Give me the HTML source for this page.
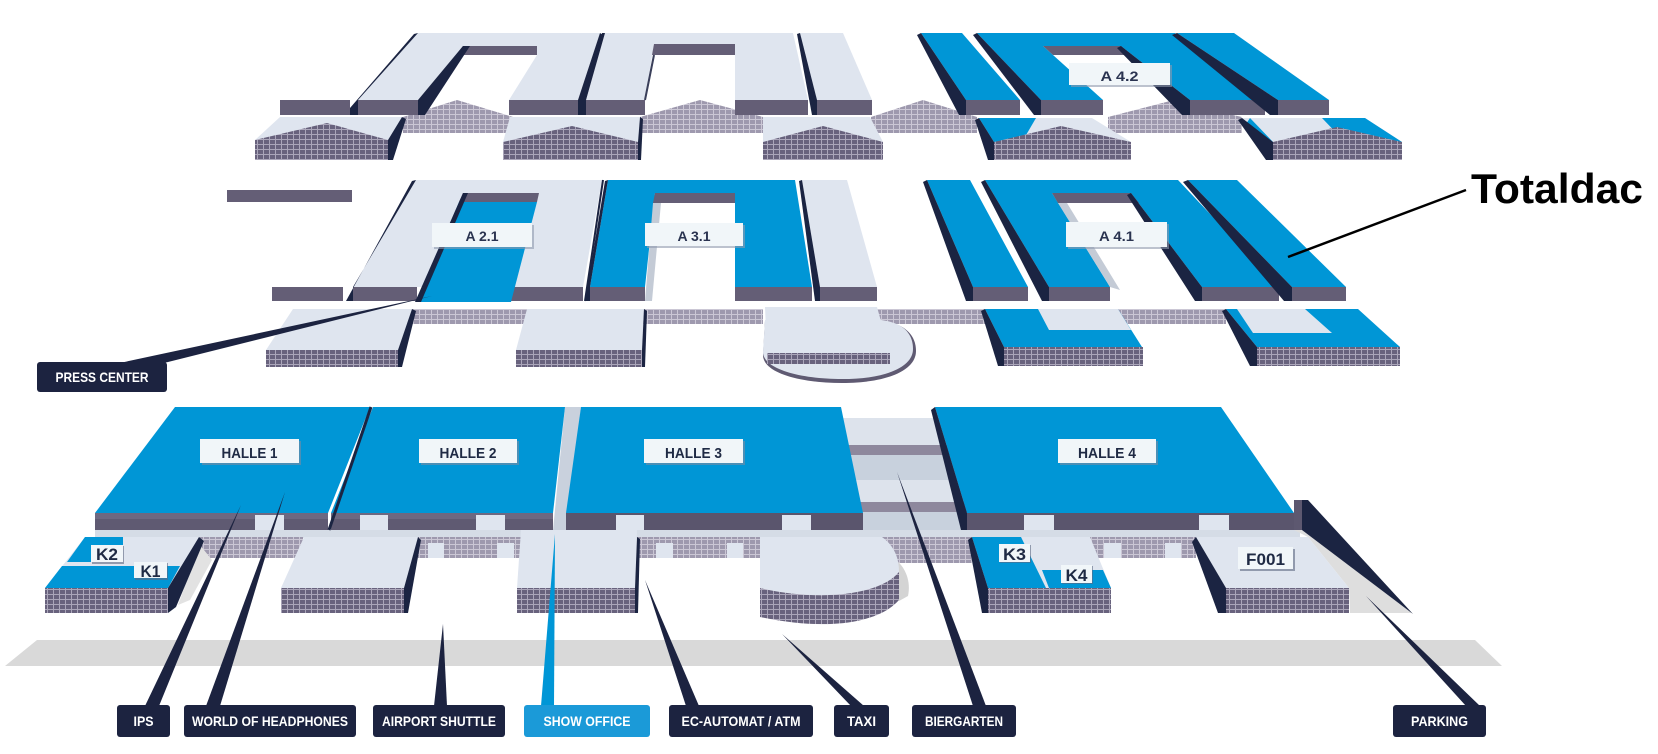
<!DOCTYPE html>
<html><head><meta charset="utf-8">
<style>html,body{margin:0;padding:0;background:#fff}svg{display:block}</style>
</head><body>
<svg width="1658" height="754" viewBox="0 0 1658 754" xmlns="http://www.w3.org/2000/svg" font-family="Liberation Sans, sans-serif">
<defs>
<pattern id="hd" width="6" height="5" patternUnits="userSpaceOnUse"><rect width="6" height="5" fill="#aaa5b9"/><rect width="5" height="4" fill="#68627d"/></pattern>
<pattern id="hl" width="6" height="5" patternUnits="userSpaceOnUse"><rect width="6" height="5" fill="#cbc7d5"/><rect width="5" height="4" fill="#9e99ae"/></pattern>
</defs>

<!-- ground strip -->
<polygon points="37,640 1475,640 1502,666 5,666" fill="#d9d9d9"/>

<!-- ===== TOP ROW ===== -->
<g>
<polygon fill="url(#hl)" points="403,117 457,100 513,117 513,133 403,133"/>
<polygon fill="url(#hl)" points="640,117 700,100 763,117 763,133 640,133"/>
<polygon fill="url(#hl)" points="871,117 923,100 977,117 977,133 871,133"/>
<polygon fill="url(#hl)" points="1108,117 1170,101 1242,117 1242,133 1108,133"/>

<!-- front pitched blocks -->
<polygon fill="#dfe5ef" points="280,117 402,117 388,140 255,140"/>
<polygon fill="url(#hd)" points="255,140 327,123 388,140 388,160 255,160"/>
<polygon fill="#1b2442" points="402,117 406,119 393,160 388,160 388,140"/>

<polygon fill="#dfe5ef" points="510,117 640,117 638,142 503,142"/>
<polygon fill="url(#hd)" points="503,142 572,126 638,142 638,160 503,160"/>
<polygon fill="#1b2442" points="640,117 643,119 641,160 638,160 638,142"/>

<polygon fill="#dfe5ef" points="763,117 870,117 883,142 763,142"/>
<polygon fill="url(#hd)" points="763,142 823,126 883,142 883,160 763,160"/>

<polygon fill="#dfe5ef" points="979,118 1092,118 1131,142 994,142"/>
<polygon fill="#0096d6" points="979,118 1036,118 1022,142 994,142"/>
<polygon fill="url(#hd)" points="994,142 1061,126 1131,142 1131,160 994,160"/>
<polygon fill="#1b2442" points="979,118 994,142 994,160 988,160 975,120"/>

<polygon fill="#dfe5ef" points="1242,118 1365,118 1402,142 1273,142"/>
<polygon fill="#0096d6" points="1322,118 1365,118 1402,142 1345,142"/>
<polygon fill="#0096d6" points="1246,124 1262,142 1273,142 1250,118"/>
<polygon fill="url(#hd)" points="1273,142 1337,127 1402,142 1402,160 1273,160"/>
<polygon fill="#1b2442" points="1242,118 1273,142 1273,160 1266,160 1238,120"/>

<!-- lone bar -->
<rect x="280" y="100" width="70" height="15" fill="#645e76"/>

<!-- PI 1 -->
<path fill="#dfe5ef" fill-rule="evenodd" d="M418,33 L600,33 L578,100 L358,100 Z M463,46 L537,46 L537,55 L509,100 L418,100 Z"/>
<polygon fill="#645e76" points="463,46 537,46 537,55 456,55"/>
<polygon fill="#1b2442" points="418,33 358,100 358,115 350,115 350,108 414,34"/>
<polygon fill="#1b2442" points="463,46 470,46 425,115 418,115 418,100"/>
<polygon fill="#1b2442" points="600,33 603,35 582,115 578,115 578,100"/>
<rect x="358" y="100" width="60" height="15" fill="#645e76"/>
<rect x="509" y="100" width="69" height="15" fill="#645e76"/>

<!-- PI 2 -->
<path fill="#dfe5ef" fill-rule="evenodd" d="M605,33 L793,33 L808,100 L586,100 Z M654,44 L735,44 L735,100 L645,100 Z"/>
<polygon fill="#645e76" points="654,44 735,44 735,55 652,55"/>
<line x1="654" y1="55" x2="645" y2="100" stroke="#3a3f5a" stroke-width="2"/>
<polygon fill="#1b2442" points="605,33 586,100 586,115 581,115 602,33"/>
<rect x="586" y="100" width="59" height="15" fill="#645e76"/>
<rect x="735" y="100" width="73" height="15" fill="#645e76"/>

<!-- narrow -->
<polygon fill="#dfe5ef" points="800,33 843,33 872,100 817,100"/>
<polygon fill="#1b2442" points="800,33 817,100 817,115 812,115 797,34"/>
<rect x="817" y="100" width="55" height="15" fill="#645e76"/>

<!-- blue slab 1 -->
<polygon fill="#0096d6" points="921,33 962,33 1020,100 966,100"/>
<polygon fill="#1b2442" points="921,33 966,100 966,115 959,115 917,35"/>
<rect x="966" y="100" width="54" height="15" fill="#645e76"/>

<!-- blue PI A4.2 -->
<path fill="#0096d6" fill-rule="evenodd" d="M977,33 L1175,33 L1265,100 L1041,100 Z M1043,46 L1121,46 L1190,100 L1103,100 Z"/>
<polygon fill="#645e76" points="1043,46 1121,46 1132,55 1053,55"/>
<polygon fill="#1b2442" points="977,33 1041,100 1041,115 1034,115 973,35"/>
<polygon fill="#1b2442" points="1121,46 1190,100 1190,115 1182,115 1117,48"/>
<rect x="1041" y="100" width="62" height="15" fill="#645e76"/>
<rect x="1190" y="100" width="75" height="15" fill="#645e76"/>

<!-- blue slab 3 -->
<polygon fill="#0096d6" points="1177,33 1234,33 1329,100 1278,100"/>
<polygon fill="#1b2442" points="1177,33 1278,100 1278,115 1270,115 1172,35"/>
<rect x="1278" y="100" width="51" height="15" fill="#645e76"/>

<rect x="1071" y="65" width="101" height="22" fill="#8f9aae" opacity="0.6"/>
<rect x="1069" y="63" width="101" height="22" fill="#f1f6f9"/>
<text x="1119.5" y="81" font-size="14" font-weight="bold" fill="#2a3350" text-anchor="middle" textLength="38" lengthAdjust="spacingAndGlyphs">A 4.2</text>
</g>

<!-- ===== MIDDLE ROW ===== -->
<g>
<rect x="227" y="190" width="125" height="12" fill="#645e76"/>
<rect x="272" y="287" width="71" height="14" fill="#645e76"/>

<!-- A2.1 -->
<polygon fill="#dfe5ef" points="416,180 602,180 583,287 353,287"/>
<rect x="353" y="287" width="64" height="14" fill="#645e76"/>
<rect x="511" y="287" width="72" height="14" fill="#645e76"/>
<polygon fill="#645e76" points="463,193 539,193 537,202 459,202"/>
<polygon fill="#0096d6" points="459,202 537,202 511,302 417,302"/>
<polygon fill="#1b2442" points="463,193 468,193 421,302 415,302"/>
<polygon fill="#1b2442" points="416,180 353,287 353,301 346,301 412,181"/>
<line x1="603" y1="180" x2="585" y2="301" stroke="#1b2442" stroke-width="2"/>

<!-- A3.1 -->
<path fill="#0096d6" fill-rule="evenodd" d="M608,180 L795,180 L812,287 L590,287 Z M655,193 L735,193 L735,287 L645,287 Z"/>
<polygon fill="#645e76" points="655,193 735,193 735,203 653,203"/>
<polygon fill="#c4cbd6" points="653,203 661,203 652,301 645,301"/>
<polygon fill="#1b2442" points="608,180 590,287 590,301 585,301 605,181"/>
<rect x="590" y="287" width="55" height="14" fill="#645e76"/>
<rect x="735" y="287" width="77" height="14" fill="#645e76"/>

<!-- narrow -->
<polygon fill="#dfe5ef" points="802,180 847,180 877,287 820,287"/>
<polygon fill="#1b2442" points="802,180 820,287 820,301 815,301 799,181"/>
<rect x="820" y="287" width="57" height="14" fill="#645e76"/>

<!-- A4 slab L -->
<polygon fill="#0096d6" points="927,180 970,180 1028,287 973,287"/>
<polygon fill="#1b2442" points="927,180 973,287 973,301 966,301 923,182"/>
<rect x="973" y="287" width="55" height="14" fill="#645e76"/>

<!-- A4.1 PI -->
<path fill="#0096d6" fill-rule="evenodd" d="M985,180 L1178,180 L1279,287 L1049,287 Z M1052,193 L1131,193 L1202,287 L1110,287 Z"/>
<polygon fill="#645e76" points="1052,193 1131,193 1139,203 1058,203"/>
<polygon fill="#c4cbd6" points="1058,203 1067,203 1120,290 1110,287"/>
<polygon fill="#1b2442" points="985,180 1049,287 1049,301 1042,301 981,182"/>
<polygon fill="#1b2442" points="1131,193 1202,287 1202,301 1195,301 1127,195"/>
<rect x="1049" y="287" width="61" height="14" fill="#645e76"/>
<rect x="1202" y="287" width="77" height="14" fill="#645e76"/>

<!-- right slab -->
<polygon fill="#0096d6" points="1188,180 1237,180 1346,287 1292,287"/>
<polygon fill="#1b2442" points="1188,180 1292,287 1292,301 1284,301 1183,182"/>
<rect x="1292" y="287" width="54" height="14" fill="#645e76"/>

<!-- lower middle -->
<rect x="412" y="309" width="115" height="15" fill="url(#hl)"/>
<rect x="640" y="309" width="123" height="15" fill="url(#hl)"/>
<rect x="875" y="309" width="111" height="15" fill="url(#hl)"/>
<rect x="1118" y="309" width="108" height="15" fill="url(#hl)"/>

<polygon fill="#dfe5ef" points="293,309 412,309 398,350 266,350"/>
<rect x="266" y="350" width="132" height="17" fill="url(#hd)"/>
<polygon fill="#1b2442" points="412,309 416,311 402,367 398,367 398,350"/>

<polygon fill="#dfe5ef" points="527,309 644,309 642,350 516,350"/>
<rect x="516" y="350" width="126" height="17" fill="url(#hd)"/>
<polygon fill="#1b2442" points="644,309 647,311 645,367 642,367 642,350"/>

<!-- semicircle building -->
<path fill="#5f5a72" d="M763,355 C763,373 800,383 842,383 C888,383 916,370 916,351 C916,333 902,323 882,321 L765,321 Z"/>
<path fill="#dfe5ef" d="M763,352 C763,369 800,379 842,379 C886,379 913,367 913,349 C913,331 900,322 880,320 L765,320 Z"/>
<polygon fill="#dfe5ef" points="765,307 877,307 890,353 767,353"/>
<rect x="767" y="353" width="123" height="11" fill="url(#hd)"/>

<!-- blue L block -->
<polygon fill="#0096d6" points="985,309 1118,309 1142,347 1004,347"/>
<polygon fill="#dfe5ef" points="1038,309 1118,309 1131,330 1049,330"/>
<rect x="1004" y="347" width="139" height="19" fill="url(#hd)"/>
<polygon fill="#1b2442" points="985,309 1004,347 1004,366 998,366 981,311"/>

<polygon fill="#0096d6" points="1226,309 1358,309 1400,347 1257,347"/>
<polygon fill="#dfe5ef" points="1237,309 1305,309 1332,333 1253,333"/>
<rect x="1257" y="347" width="143" height="19" fill="url(#hd)"/>
<polygon fill="#1b2442" points="1226,309 1257,347 1257,366 1250,366 1222,311"/>

<!-- labels -->
<rect x="434" y="225" width="100" height="24" fill="#8f9aae" opacity="0.6"/>
<rect x="432" y="223" width="100" height="24" fill="#f1f6f9"/>
<text x="482" y="241" font-size="14" font-weight="bold" fill="#2a3350" text-anchor="middle" textLength="33" lengthAdjust="spacingAndGlyphs">A 2.1</text>
<rect x="647" y="225" width="98" height="23" fill="#8f9aae" opacity="0.6"/>
<rect x="645" y="223" width="98" height="23" fill="#f1f6f9"/>
<text x="694" y="241" font-size="14" font-weight="bold" fill="#2a3350" text-anchor="middle" textLength="33" lengthAdjust="spacingAndGlyphs">A 3.1</text>
<rect x="1068" y="224" width="101" height="25" fill="#8f9aae" opacity="0.6"/>
<rect x="1066" y="222" width="101" height="25" fill="#f1f6f9"/>
<text x="1116.5" y="241" font-size="14" font-weight="bold" fill="#2a3350" text-anchor="middle" textLength="35" lengthAdjust="spacingAndGlyphs">A 4.1</text>
</g>

<!-- ===== BOTTOM ROW ===== -->
<g>
<rect x="95" y="529" width="1205" height="9" fill="#d5dce6"/>
<!-- back hatch strips -->
<rect x="198" y="537" width="105" height="21" fill="url(#hl)"/>
<rect x="418" y="537" width="106" height="21" fill="url(#hl)"/>
<rect x="428" y="543" width="16" height="15" fill="#dfe5ef"/>
<rect x="497" y="543" width="17" height="15" fill="#dfe5ef"/>
<rect x="637" y="537" width="123" height="21" fill="url(#hl)"/>
<rect x="656" y="543" width="17" height="15" fill="#dfe5ef"/>
<rect x="727" y="543" width="16" height="15" fill="#dfe5ef"/>
<rect x="882" y="537" width="90" height="26" fill="url(#hl)"/>
<rect x="1090" y="537" width="106" height="21" fill="url(#hl)"/>
<rect x="1104" y="543" width="17" height="15" fill="#dfe5ef"/>
<rect x="1165" y="543" width="16" height="15" fill="#dfe5ef"/>

<!-- biergarten stripes -->
<rect x="838" y="418" width="132" height="27" fill="#dde3ec"/>
<rect x="838" y="445" width="132" height="10" fill="#8e889d"/>
<rect x="838" y="455" width="132" height="25" fill="#c8d1dd"/>
<rect x="838" y="480" width="132" height="22" fill="#dde3ec"/>
<rect x="838" y="502" width="132" height="10" fill="#8e889d"/>
<rect x="838" y="512" width="132" height="18" fill="#c8d1dd"/>

<!-- gap H2-H3 -->
<polygon fill="#c9d1dd" points="565,407 581,407 566,530 553,530"/>

<!-- HALLE 1 -->
<polygon fill="#0096d6" points="175,407 370,407 328,513 95,513"/>
<rect x="95" y="513" width="233" height="17" fill="#5f5a72"/>
<rect x="95" y="513" width="233" height="6" fill="#6d6881"/>
<rect x="255" y="515" width="29" height="15" fill="#dfe5ef"/>
<!-- HALLE 2 -->
<polygon fill="#0096d6" points="373,407 565,407 553,513 331,513"/>
<rect x="331" y="513" width="222" height="17" fill="#5f5a72"/>
<rect x="331" y="513" width="222" height="6" fill="#6d6881"/>
<rect x="360" y="515" width="28" height="15" fill="#dfe5ef"/>
<rect x="476" y="515" width="29" height="15" fill="#dfe5ef"/>
<line x1="371" y1="407" x2="329" y2="530" stroke="#1b2442" stroke-width="3"/>
<!-- HALLE 3 -->
<polygon fill="#0096d6" points="581,407 841,407 863,513 566,513"/>
<rect x="566" y="513" width="297" height="17" fill="#5a556d"/>
<rect x="616" y="515" width="28" height="15" fill="#dfe5ef"/>
<rect x="782" y="515" width="29" height="15" fill="#dfe5ef"/>
<!-- HALLE 4 -->
<polygon fill="#0096d6" points="935,407 1221,407 1294,513 967,513"/>
<rect x="967" y="513" width="327" height="17" fill="#5a556d"/>
<rect x="1024" y="515" width="30" height="15" fill="#dfe5ef"/>
<rect x="1199" y="515" width="30" height="15" fill="#dfe5ef"/>
<polygon fill="#1b2442" points="935,407 967,513 967,530 961,530 931,410"/>
<!-- parking ramp -->
<polygon fill="#dedede" points="1294,530 1306,530 1412,613 1350,613 1349,588 1308,537"/>
<rect x="1294" y="500" width="9" height="30" fill="#5d5870"/>
<polygon fill="#1b2442" points="1302,500 1308,500 1413,614 1302,530"/>

<!-- K2/K1 block -->
<polygon fill="#e2e2e2" points="200,545 212,560 190,600 178,605"/>
<polygon fill="#dfe5ef" points="85,537 200,537 168,588 45,588"/>
<polygon fill="#0096d6" points="85,537 123,537 123,562 67,562"/>
<polygon fill="#0096d6" points="62,566 180,566 168,588 45,588"/>
<rect x="45" y="588" width="123" height="25" fill="url(#hd)"/>
<polygon fill="#1b2442" points="199,537 204,541 176,607 168,613 168,588"/>

<!-- airport block -->
<polygon fill="#dfe5ef" points="304,537 418,537 404,588 281,588"/>
<rect x="281" y="588" width="123" height="25" fill="url(#hd)"/>
<polygon fill="#1b2442" points="418,537 421,540 408,613 404,613 404,588"/>

<!-- show office block -->
<polygon fill="#dfe5ef" points="521,530 637,530 635,588 517,588"/>
<rect x="517" y="588" width="118" height="25" fill="url(#hd)"/>
<polygon fill="#1b2442" points="637,537 640,539 638,613 635,613 635,588"/>

<!-- taxi building -->
<path fill="#d4d4d4" d="M896,560 C906,568 911,582 908,596 L899,601 Z"/>
<path fill="#dfe5ef" d="M760,537 L882,537 C893,545 899,556 899,572 C880,595 820,602 760,588 Z"/>
<path fill="url(#hd)" d="M760,588 C820,602 880,595 899,572 L899,600 C880,622 830,632 760,617 Z"/>

<!-- K3/K4 block -->
<polygon fill="#dfe5ef" points="972,537 1090,537 1111,588 988,588"/>
<polygon fill="#0096d6" points="972,537 1021,537 1046,588 988,588"/>
<polygon fill="#0096d6" points="1042,570 1103,570 1111,588 1049,588"/>
<rect x="988" y="588" width="123" height="25" fill="url(#hd)"/>
<polygon fill="#1b2442" points="972,537 988,588 988,613 982,613 968,540"/>

<!-- F001 block -->
<polygon fill="#dfe5ef" points="1196,537 1308,537 1349,588 1226,588"/>
<rect x="1226" y="588" width="123" height="25" fill="url(#hd)"/>
<polygon fill="#1b2442" points="1196,537 1226,588 1226,613 1218,613 1192,542"/>

<!-- HALLE labels -->
<rect x="202" y="441" width="99" height="24" fill="#7d8aa0" opacity="0.6"/>
<rect x="200" y="439" width="99" height="24" fill="#f1f6f9"/>
<text x="249.5" y="458" font-size="15" font-weight="bold" fill="#1f2a44" text-anchor="middle" textLength="56" lengthAdjust="spacingAndGlyphs">HALLE 1</text>
<rect x="421" y="441" width="98" height="24" fill="#7d8aa0" opacity="0.6"/>
<rect x="419" y="439" width="98" height="24" fill="#f1f6f9"/>
<text x="468" y="458" font-size="15" font-weight="bold" fill="#1f2a44" text-anchor="middle" textLength="57" lengthAdjust="spacingAndGlyphs">HALLE 2</text>
<rect x="646" y="441" width="99" height="24" fill="#7d8aa0" opacity="0.6"/>
<rect x="644" y="439" width="99" height="24" fill="#f1f6f9"/>
<text x="693.5" y="458" font-size="15" font-weight="bold" fill="#1f2a44" text-anchor="middle" textLength="57" lengthAdjust="spacingAndGlyphs">HALLE 3</text>
<rect x="1060" y="441" width="98" height="24" fill="#7d8aa0" opacity="0.6"/>
<rect x="1058" y="439" width="98" height="24" fill="#f1f6f9"/>
<text x="1107" y="458" font-size="15" font-weight="bold" fill="#1f2a44" text-anchor="middle" textLength="58" lengthAdjust="spacingAndGlyphs">HALLE 4</text>

<!-- K labels -->
<rect x="92" y="546" width="32" height="18" fill="#5d6880" opacity="0.6"/>
<rect x="91" y="545" width="32" height="17" fill="#f1f6f9"/>
<text x="107" y="560" font-size="17" font-weight="bold" fill="#1f2a44" text-anchor="middle" textLength="22" lengthAdjust="spacingAndGlyphs">K2</text>
<rect x="135" y="563" width="33" height="17" fill="#5d6880" opacity="0.6"/>
<rect x="134" y="562" width="33" height="16" fill="#f1f6f9"/>
<text x="150.5" y="577" font-size="17" font-weight="bold" fill="#1f2a44" text-anchor="middle" textLength="20" lengthAdjust="spacingAndGlyphs">K1</text>
<rect x="1000" y="545" width="31" height="18" fill="#5d6880" opacity="0.6"/>
<rect x="999" y="544" width="31" height="18" fill="#f1f6f9"/>
<text x="1014.5" y="560" font-size="17" font-weight="bold" fill="#1f2a44" text-anchor="middle" textLength="23" lengthAdjust="spacingAndGlyphs">K3</text>
<rect x="1062" y="566" width="31" height="18" fill="#5d6880" opacity="0.6"/>
<rect x="1061" y="565" width="31" height="18" fill="#f1f6f9"/>
<text x="1076.5" y="581" font-size="17" font-weight="bold" fill="#1f2a44" text-anchor="middle" textLength="22" lengthAdjust="spacingAndGlyphs">K4</text>
<rect x="1240" y="549" width="55" height="22" fill="#5d6880" opacity="0.6"/>
<rect x="1238" y="547" width="55" height="22" fill="#f1f6f9"/>
<text x="1265.5" y="565" font-size="17" font-weight="bold" fill="#1f2a44" text-anchor="middle" textLength="39" lengthAdjust="spacingAndGlyphs">F001</text>
</g>

<!-- ===== CALLOUT WEDGES ===== -->
<g fill="#1c2340">
<polygon points="115,364 160,364 432,296"/>
<polygon points="145,706 159,706 241,505"/>
<polygon points="206,706 220,706 285,492"/>
<polygon points="434,706 447,706 443,624"/>
<polygon points="541,706 554,706 555,534" fill="#0096d6"/>
<polygon points="686,706 699,706 645,580"/>
<polygon points="851,706 864,706 782,634"/>
<polygon points="973,706 986,706 897,472"/>
<polygon points="1466,706 1480,706 1366,596"/>
</g>

<!-- ===== CALLOUT LABELS ===== -->
<g font-size="14" font-weight="bold" fill="#ffffff" text-anchor="middle">
<rect x="37" y="362" width="130" height="30" rx="3" fill="#1c2340"/>
<text x="102" y="382" textLength="93" lengthAdjust="spacingAndGlyphs">PRESS CENTER</text>
<rect x="117" y="705" width="53" height="32" rx="3" fill="#1c2340"/>
<text x="143.5" y="726" textLength="20" lengthAdjust="spacingAndGlyphs">IPS</text>
<rect x="184" y="705" width="172" height="32" rx="3" fill="#1c2340"/>
<text x="270" y="726" textLength="156" lengthAdjust="spacingAndGlyphs">WORLD OF HEADPHONES</text>
<rect x="373" y="705" width="132" height="32" rx="3" fill="#1c2340"/>
<text x="439" y="726" textLength="114" lengthAdjust="spacingAndGlyphs">AIRPORT SHUTTLE</text>
<rect x="524" y="705" width="126" height="32" rx="3" fill="#1b9ad8"/>
<text x="587" y="726" textLength="87" lengthAdjust="spacingAndGlyphs">SHOW OFFICE</text>
<rect x="669" y="705" width="144" height="32" rx="3" fill="#1c2340"/>
<text x="741" y="726" textLength="119" lengthAdjust="spacingAndGlyphs">EC-AUTOMAT / ATM</text>
<rect x="834" y="705" width="55" height="32" rx="3" fill="#1c2340"/>
<text x="861.5" y="726" textLength="29" lengthAdjust="spacingAndGlyphs">TAXI</text>
<rect x="912" y="705" width="104" height="32" rx="3" fill="#1c2340"/>
<text x="964" y="726" textLength="78" lengthAdjust="spacingAndGlyphs">BIERGARTEN</text>
<rect x="1393" y="705" width="93" height="32" rx="3" fill="#1c2340"/>
<text x="1439.5" y="726" textLength="57" lengthAdjust="spacingAndGlyphs">PARKING</text>
</g>

<!-- Totaldac annotation -->
<line x1="1288" y1="257" x2="1466" y2="190" stroke="#000" stroke-width="2.5"/>
<text x="1471" y="203" font-size="42" font-weight="bold" fill="#000" textLength="172" lengthAdjust="spacingAndGlyphs">Totaldac</text>
</svg>
</body></html>
